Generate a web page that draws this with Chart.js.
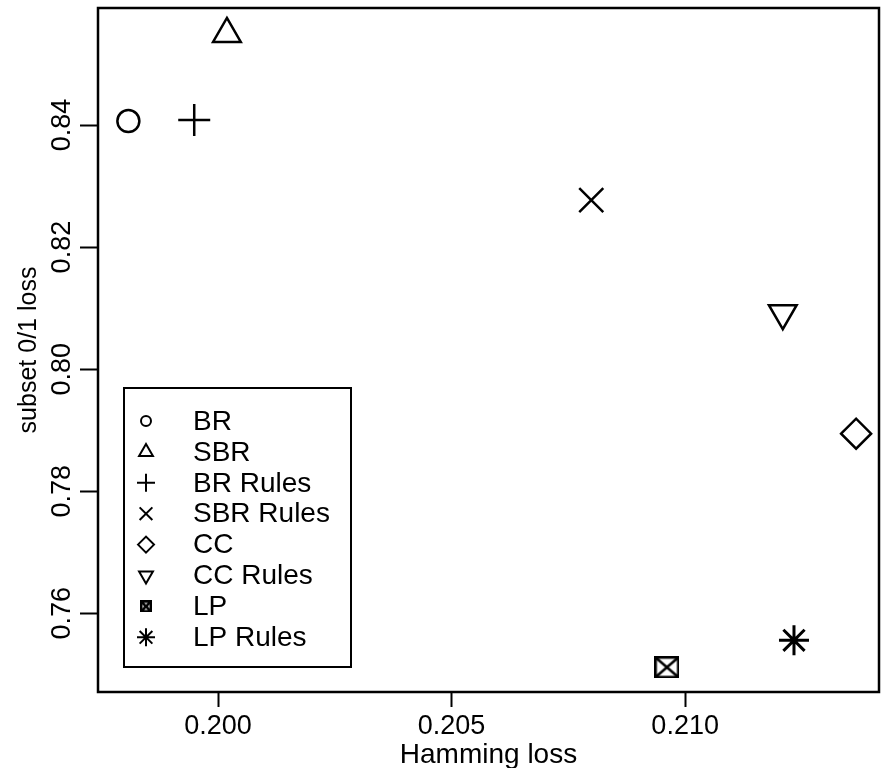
<!DOCTYPE html>
<html>
<head>
<meta charset="utf-8">
<script src="https://cdn.jsdelivr.net/npm/chart.js@4.4.1/dist/chart.umd.min.js"></script>
<style>
  html, body { margin: 0; padding: 0; background: #fff; }
  #wrap { width: 887px; height: 768px; }
</style>
</head>
<body>
<div id="wrap"><canvas id="myChart" width="887" height="768"></canvas></div>
<script>
// values
const methods = ['BR', 'SBR', 'BR Rules', 'SBR Rules', 'CC', 'CC Rules', 'LP', 'LP Rules'];
const hammingLoss = [0.19808, 0.20019, 0.19949, 0.20799, 0.21366, 0.21209, 0.20961, 0.21233];
const subsetLoss = [0.84066, 0.85492, 0.84082, 0.82770, 0.78943, 0.80918, 0.75115, 0.75557];
const xTicks = [0.200, 0.205, 0.210];
const xTickLabels = ['0.200', '0.205', '0.210'];
const yTicks = [0.76, 0.78, 0.80, 0.82, 0.84];
const yTickLabels = ['0.76', '0.78', '0.80', '0.82', '0.84'];

Chart.defaults.font.family = '"Liberation Sans", Arial, sans-serif';
Chart.defaults.color = '#000';

// square with an x inside (R pch 7)
function boxX(w, h, lw) {
    const c = document.createElement('canvas');
    c.width = w; c.height = h;
    const g = c.getContext('2d');
    g.strokeStyle = '#000';
    g.lineWidth = lw;
    const p = lw / 2;
    g.strokeRect(p, p, w - lw, h - lw);
    g.beginPath();
    g.moveTo(p, p); g.lineTo(w - p, h - p);
    g.moveTo(w - p, p); g.lineTo(p, h - p);
    g.stroke();
    return c;
}

// marker per method: big one for the plot, small one for the legend
const markers = [
    { style: 'circle', r: 11, lr: 5, rot: 0 },
    { style: 'triangle', r: 16, lr: 8, rot: 0 },
    { style: 'cross', r: 16, lr: 9, rot: 0 },
    { style: 'crossRot', r: 17, lr: 9, rot: 0 },
    { style: 'rectRot', r: 15, lr: 8, rot: 0 },
    { style: 'triangle', r: 16, lr: 8, rot: 180 },
    { style: boxX(25, 22, 2.5), small: boxX(12, 12, 2.5), r: 12, lr: 6, rot: 0 },
    { style: 'star', r: 15, lr: 9, rot: 0 }
];

const datasets = methods.map((m, i) => ({
    label: m,
    data: [{ x: hammingLoss[i], y: subsetLoss[i] }],
    pointStyle: markers[i].style,
    pointRadius: markers[i].r,
    rotation: markers[i].rot,
    borderColor: '#000',
    backgroundColor: 'rgba(0,0,0,0)',
    pointBorderWidth: i === 7 ? 3 : 2.5
}));

// frame around the plotting region
const boxPlugin = {
    id: 'box',
    afterDraw(chart) {
        const a = chart.chartArea;
        const ctx = chart.ctx;
        ctx.save();
        ctx.strokeStyle = '#000';
        ctx.lineWidth = 2.5;
        ctx.strokeRect(a.left, a.top, a.right - a.left, a.bottom - a.top);
        ctx.restore();
    }
};

// legend inside the plot, bottom left
const legendPlugin = {
    id: 'innerLegend',
    afterDraw(chart) {
        const ctx = chart.ctx;
        const a = chart.chartArea;
        const left = a.left + 26, top = 388, w = 227, h = 279;
        ctx.save();
        ctx.fillStyle = '#fff';
        ctx.fillRect(left, top, w, h);
        ctx.strokeStyle = '#000';
        ctx.lineWidth = 2;
        ctx.strokeRect(left, top, w, h);
        ctx.font = '28px "Liberation Sans", Arial, sans-serif';
        ctx.textBaseline = 'middle';
        methods.forEach((m, i) => {
            const y = top + 33 + i * 30.9;
            const mk = markers[i];
            ctx.fillStyle = 'rgba(0,0,0,0)';
            ctx.strokeStyle = '#000';
            Chart.helpers.drawPoint(ctx, {
                pointStyle: mk.small || mk.style,
                radius: mk.lr,
                rotation: mk.rot,
                borderWidth: 2.2
            }, left + 22, y);
            ctx.fillStyle = '#000';
            ctx.fillText(m, left + 69, y + 1);
        });
        ctx.restore();
    }
};

const ctx = document.getElementById('myChart').getContext('2d');
new Chart(ctx, {
    type: 'scatter',
    data: { datasets: datasets },
    options: {
        responsive: false,
        animation: false,
        events: [],
        layout: { autoPadding: false, padding: { top: 8, right: 8, left: 0, bottom: 0 } },
        plugins: {
            legend: { display: false },
            tooltip: { enabled: false }
        },
        scales: {
            x: {
                type: 'linear',
                min: 0.19743,
                max: 0.21415,
                afterBuildTicks: s => { s.ticks = xTicks.map(v => ({ value: v })); },
                afterFit: s => { s.height = 76; s.paddingLeft = 0; s.paddingRight = 0; },
                border: { display: false },
                grid: { drawOnChartArea: false, color: '#000', tickLength: 15, tickWidth: 2 },
                ticks: {
                    padding: 3,
                    maxRotation: 0,
                    font: { size: 27 },
                    callback: (v, i) => xTickLabels[i]
                },
                title: {
                    display: true,
                    text: 'Hamming loss',
                    font: { size: 28, lineHeight: 1 },
                    padding: { top: 0, bottom: -1 }
                }
            },
            y: {
                type: 'linear',
                min: 0.7471,
                max: 0.85918,
                afterBuildTicks: s => { s.ticks = yTicks.map(v => ({ value: v })); },
                afterFit: s => { s.width = 98; s.paddingTop = 0; s.paddingBottom = 0; },
                border: { display: false },
                grid: { drawOnChartArea: false, color: '#000', tickLength: 18, tickWidth: 2 },
                ticks: {
                    minRotation: 90,
                    maxRotation: 90,
                    crossAlign: 'center',
                    padding: -9,
                    font: { size: 27 },
                    callback: (v, i) => yTickLabels[i]
                },
                title: {
                    display: true,
                    text: 'subset 0/1 loss',
                    font: { size: 25, lineHeight: 1 },
                    padding: { top: 17, bottom: 0 }
                }
            }
        }
    },
    plugins: [boxPlugin, legendPlugin]
});
</script>
</body>
</html>
